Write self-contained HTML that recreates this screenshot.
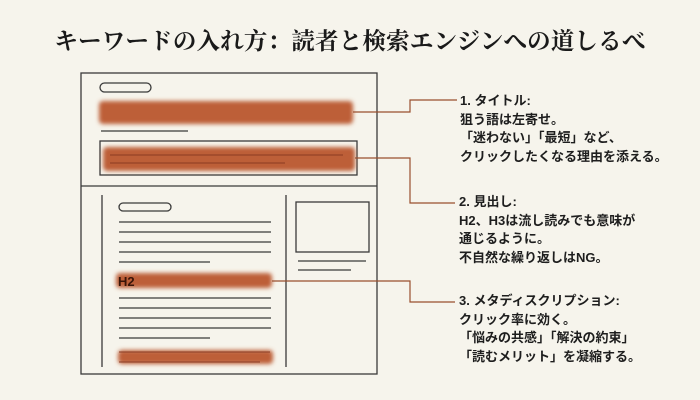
<!DOCTYPE html>
<html><head><meta charset="utf-8"><style>
body{margin:0;width:700px;height:400px;background:#f6f4ec;overflow:hidden;position:relative}
.t{position:absolute;left:0;width:700px;top:22px;text-align:center;font:bold 23.5px "Liberation Serif","Noto Serif CJK SC",serif;color:#1a1a1a;letter-spacing:0.2px}
.n{position:absolute;font:bold 13px "Liberation Sans","Noto Sans CJK JP",sans-serif;color:#1e1e1e;line-height:18.5px;white-space:nowrap}
</style></head><body>
<div class="t">キーワードの入れ方：読者と検索エンジンへの道しるべ</div>
<svg width="700" height="400" style="position:absolute;left:0;top:0">
<defs><filter id="b" x="-10%" y="-50%" width="120%" height="200%"><feGaussianBlur stdDeviation="2"/></filter></defs>
<g fill="none" stroke="#3a3a3a" stroke-width="1.3">
<rect x="81" y="73" width="296" height="301"/>
<line x1="81" y1="186" x2="377" y2="186"/>
<rect x="100" y="83" width="51" height="9" rx="4.5"/>
<line x1="101" y1="131" x2="188" y2="131"/>
<rect x="100" y="141" width="257" height="34"/>
<line x1="102" y1="195" x2="102" y2="367"/>
<line x1="286" y1="195" x2="286" y2="367"/>
<rect x="119" y="203" width="52" height="8" rx="4"/>
<line x1="119" y1="222" x2="271" y2="222"/><line x1="119" y1="232" x2="271" y2="232"/>
<line x1="119" y1="242" x2="271" y2="242"/><line x1="119" y1="252" x2="271" y2="252"/>
<line x1="119" y1="262" x2="210" y2="262"/>
<line x1="119" y1="298" x2="271" y2="298"/><line x1="119" y1="308" x2="271" y2="308"/>
<line x1="119" y1="318" x2="271" y2="318"/><line x1="119" y1="328" x2="271" y2="328"/>
<line x1="119" y1="338" x2="210" y2="338"/>
<rect x="296" y="202" width="73" height="50"/>
<line x1="298" y1="261" x2="366" y2="261"/><line x1="298" y1="270" x2="351" y2="270"/>
</g>
<g fill="#bd5f38" filter="url(#b)">
<rect x="99" y="101" width="254" height="23" rx="4"/>
<rect x="103" y="147" width="252" height="24" rx="4"/>
<rect x="116" y="273" width="156" height="15" rx="4"/>
<rect x="118" y="350" width="155" height="14" rx="4"/>
</g>
<g stroke="#8a3b22" stroke-width="1">
<line x1="110" y1="155" x2="343" y2="155"/><line x1="110" y1="163" x2="285" y2="163"/>
<line x1="119" y1="352" x2="270" y2="352"/><line x1="119" y1="362" x2="260" y2="362"/>
</g>
<text x="118" y="286" font-family="Liberation Sans,sans-serif" font-weight="bold" font-size="13" fill="#3a1508">H2</text>
<g fill="none" stroke="#9a4f2e" stroke-width="1.2">
<polyline points="353,112 410,112 410,100 457,100"/>
<polyline points="355,158 410,158 410,203 455,203"/>
<polyline points="272,281 410,281 410,302 455,302"/>
</g>
</svg>
<div class="n" style="left:460px;top:92px">1. タイトル:<br>狙う語は左寄せ。<br>「迷わない」「最短」など、<br>クリックしたくなる理由を添える。</div>
<div class="n" style="left:459px;top:193px">2. 見出し:<br>H2、H3は流し読みでも意味が<br>通じるように。<br>不自然な繰り返しはNG。</div>
<div class="n" style="left:459px;top:292px">3. メタディスクリプション:<br>クリック率に効く。<br>「悩みの共感」「解決の約束」<br>「読むメリット」を凝縮する。</div>
</body></html>
